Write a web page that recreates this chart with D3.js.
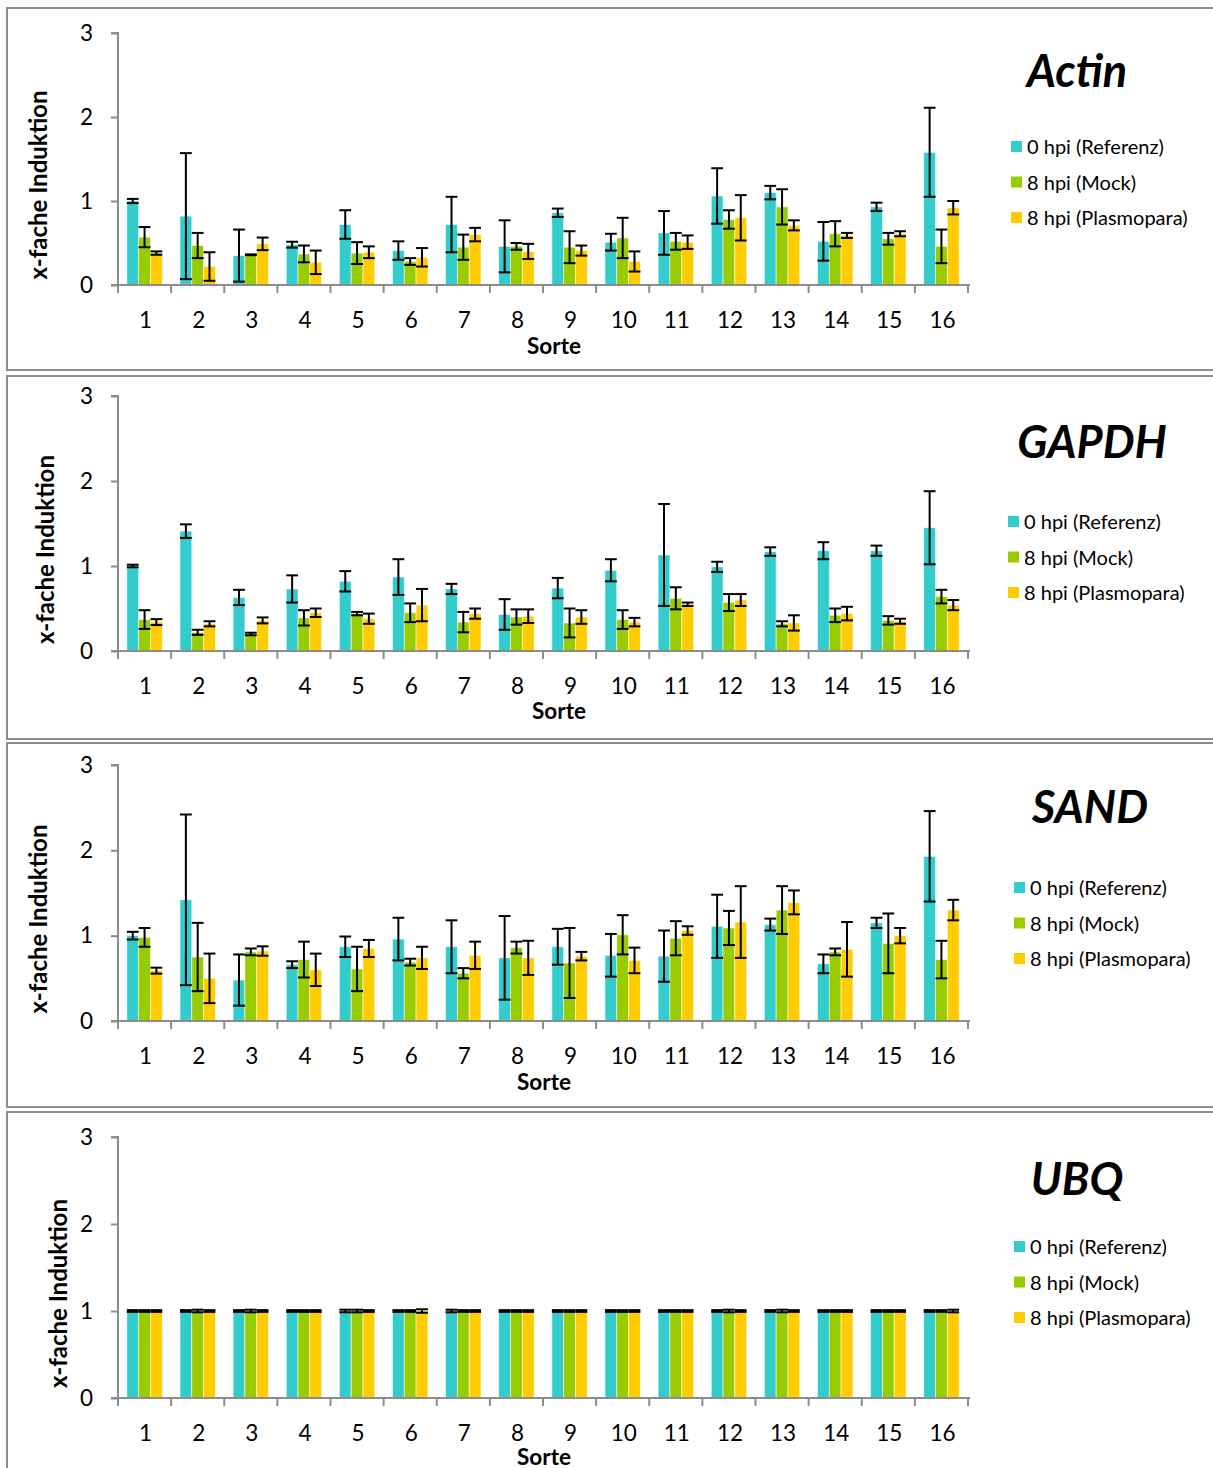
<!DOCTYPE html>
<html>
<head>
<meta charset="utf-8">
<script src="https://cdn.jsdelivr.net/npm/d3@7"></script>
<style>
  html, body { margin: 0; padding: 0; background: #fff; }
  svg { display: block; }
  text { font-family: Lato, "Open Sans", sans-serif; fill: #000; }
</style>
</head>
<body>
<svg id="chart" width="1213" height="1468"></svg>
<script>
// Sorten (cultivars) on the x axis
const sorten = ["1","2","3","4","5","6","7","8","9","10","11","12","13","14","15","16"];
const seriesNames = ["0 hpi (Referenz)", "8 hpi (Mock)", "8 hpi (Plasmopara)"];
const seriesColors = ["#33CCCC", "#99CC00", "#FFCC00"];
const yTicks = [0, 1, 2, 3];

// Actin: mean fold induction and error per cultivar
const actinRef   = [1.00, 0.82, 0.35, 0.48, 0.72, 0.41, 0.72, 0.46, 0.86, 0.51, 0.62, 1.06, 1.10, 0.52, 0.93, 1.58];
const actinMock  = [0.57, 0.47, 0.36, 0.37, 0.38, 0.28, 0.45, 0.46, 0.45, 0.56, 0.52, 0.78, 0.93, 0.61, 0.55, 0.46];
const actinPlas  = [0.38, 0.22, 0.49, 0.27, 0.39, 0.33, 0.60, 0.40, 0.41, 0.28, 0.51, 0.80, 0.71, 0.59, 0.61, 0.92];
const actinRefE  = [0.025, 0.75, 0.31, 0.035, 0.17, 0.11, 0.33, 0.31, 0.05, 0.10, 0.26, 0.33, 0.08, 0.23, 0.05, 0.53];
const actinMockE = [0.12, 0.15, 0.005, 0.10, 0.13, 0.04, 0.15, 0.04, 0.19, 0.24, 0.10, 0.11, 0.21, 0.15, 0.07, 0.20];
const actinPlasE = [0.02, 0.17, 0.075, 0.14, 0.07, 0.11, 0.08, 0.09, 0.06, 0.12, 0.08, 0.27, 0.06, 0.03, 0.03, 0.08];

// GAPDH
const gapdhRef   = [1.00, 1.41, 0.63, 0.73, 0.82, 0.87, 0.73, 0.43, 0.74, 0.95, 1.13, 0.99, 1.17, 1.18, 1.18, 1.45];
const gapdhMock  = [0.37, 0.22, 0.20, 0.39, 0.44, 0.45, 0.34, 0.40, 0.33, 0.37, 0.62, 0.57, 0.32, 0.42, 0.36, 0.64];
const gapdhPlas  = [0.34, 0.32, 0.36, 0.45, 0.38, 0.54, 0.44, 0.41, 0.40, 0.34, 0.55, 0.60, 0.33, 0.44, 0.35, 0.54];
const gapdhRefE  = [0.015, 0.08, 0.09, 0.16, 0.12, 0.21, 0.06, 0.18, 0.12, 0.13, 0.60, 0.06, 0.05, 0.10, 0.06, 0.43];
const gapdhMockE = [0.11, 0.03, 0.015, 0.09, 0.02, 0.11, 0.12, 0.09, 0.17, 0.11, 0.13, 0.10, 0.03, 0.08, 0.05, 0.08];
const gapdhPlasE = [0.035, 0.03, 0.035, 0.05, 0.06, 0.19, 0.06, 0.08, 0.08, 0.05, 0.02, 0.07, 0.09, 0.08, 0.03, 0.06];

// SAND
const sandRef    = [1.00, 1.42, 0.48, 0.66, 0.87, 0.96, 0.87, 0.74, 0.87, 0.77, 0.76, 1.11, 1.13, 0.67, 1.15, 1.93];
const sandMock   = [0.98, 0.75, 0.81, 0.72, 0.61, 0.69, 0.56, 0.86, 0.68, 1.01, 0.97, 1.09, 1.30, 0.81, 0.91, 0.72];
const sandPlas   = [0.59, 0.50, 0.82, 0.60, 0.85, 0.74, 0.77, 0.74, 0.76, 0.71, 1.06, 1.16, 1.39, 0.84, 1.00, 1.30];
const sandRefE   = [0.045, 1.00, 0.30, 0.04, 0.12, 0.25, 0.31, 0.49, 0.21, 0.25, 0.30, 0.37, 0.07, 0.11, 0.06, 0.53];
const sandMockE  = [0.11, 0.40, 0.04, 0.21, 0.26, 0.04, 0.06, 0.07, 0.41, 0.23, 0.20, 0.20, 0.28, 0.04, 0.35, 0.22];
const sandPlasE  = [0.035, 0.29, 0.055, 0.19, 0.10, 0.13, 0.16, 0.20, 0.05, 0.15, 0.05, 0.42, 0.14, 0.32, 0.09, 0.12];

// UBQ
const ubqRef     = [1, 1, 1, 1, 1, 1, 1, 1, 1, 1, 1, 1, 1, 1, 1, 1];
const ubqMock    = [1, 1, 1, 1, 1, 1, 1, 1, 1, 1, 1, 1, 1, 1, 1, 1];
const ubqPlas    = [1, 1, 1, 1, 1, 1, 1, 1, 1, 1, 1, 1, 1, 1, 1, 1];
const ubqRefE    = [0.01, 0.01, 0.01, 0.01, 0.015, 0.01, 0.015, 0.01, 0.01, 0.01, 0.01, 0.01, 0.01, 0.01, 0.01, 0.01];
const ubqMockE   = [0.01, 0.015, 0.015, 0.01, 0.015, 0.01, 0.01, 0.01, 0.01, 0.01, 0.01, 0.015, 0.015, 0.01, 0.01, 0.01];
const ubqPlasE   = [0.01, 0.01, 0.01, 0.01, 0.01, 0.02, 0.01, 0.01, 0.01, 0.01, 0.01, 0.01, 0.01, 0.01, 0.01, 0.015];

const genes = [
  { name: "Actin", values: [actinRef, actinMock, actinPlas], errors: [actinRefE, actinMockE, actinPlasE] },
  { name: "GAPDH", values: [gapdhRef, gapdhMock, gapdhPlas], errors: [gapdhRefE, gapdhMockE, gapdhPlasE] },
  { name: "SAND",  values: [sandRef, sandMock, sandPlas],    errors: [sandRefE, sandMockE, sandPlasE] },
  { name: "UBQ",   values: [ubqRef, ubqMock, ubqPlas],       errors: [ubqRefE, ubqMockE, ubqPlasE] }
];

// Per-panel placement
const layout = [
  { frameTop: 8,    frameBottom: 370,  yTop: 33,   yBottom: 285,  sorteX: 554, sorteDy: 69, ylabX: 38, titleX: 1077, titleY: 87,   legX: 1011, legY: 147 },
  { frameTop: 376,  frameBottom: 739,  yTop: 396,  yBottom: 651,  sorteX: 559, sorteDy: 68, ylabX: 45, titleX: 1092, titleY: 458,  legX: 1008, legY: 522 },
  { frameTop: 743,  frameBottom: 1107, yTop: 765,  yBottom: 1021, sorteX: 544, sorteDy: 69, ylabX: 38, titleX: 1090, titleY: 823,  legX: 1014, legY: 888 },
  { frameTop: 1112, frameBottom: 1480, yTop: 1137, yBottom: 1398, sorteX: 544, sorteDy: 67, ylabX: 58, titleX: 1077, titleY: 1195, legX: 1014, legY: 1247 }
];

const svg = d3.select("#chart");
const axisColor = "#8c8c8c";
const xLeft = 118, xRight = 968;

const x0 = d3.scaleBand().domain(sorten).range([xLeft, xRight]).paddingInner(0).paddingOuter(0);
const bw = x0.bandwidth();
const x1 = d3.scaleBand().domain(d3.range(3)).range([bw / 6, bw * 5 / 6]).padding(0);

genes.forEach((gene, gi) => {
  const L = layout[gi];
  const g = svg.append("g");

  // panel frame
  g.append("rect")
    .attr("x", 7).attr("y", L.frameTop)
    .attr("width", 1240).attr("height", L.frameBottom - L.frameTop)
    .attr("fill", "none").attr("stroke", axisColor).attr("stroke-width", 2);

  const y = d3.scaleLinear().domain([0, 3]).range([L.yBottom, L.yTop]);

  // bars
  gene.values.forEach((vals, si) => {
    g.append("g").selectAll("rect")
      .data(vals)
      .join("rect")
      .attr("x", (d, i) => x0(sorten[i]) + x1(si))
      .attr("y", d => y(d))
      .attr("width", x1.bandwidth())
      .attr("height", d => y(0) - y(d))
      .attr("fill", seriesColors[si])
      .attr("stroke", "#ffffff").attr("stroke-opacity", 0.7).attr("stroke-width", 0.8);
  });

  // error bars
  gene.values.forEach((vals, si) => {
    const errs = gene.errors[si];
    const eg = g.append("g").attr("stroke", "#000").attr("stroke-width", 2);
    vals.forEach((v, i) => {
      const cx = x0(sorten[i]) + x1(si) + x1.bandwidth() / 2;
      const hi = y(v + errs[i]), lo = y(v - errs[i]);
      const hw = x1.bandwidth() / 2;
      eg.append("line").attr("x1", cx).attr("x2", cx).attr("y1", hi).attr("y2", lo);
      eg.append("line").attr("x1", cx - hw).attr("x2", cx + hw).attr("y1", hi).attr("y2", hi);
      eg.append("line").attr("x1", cx - hw).attr("x2", cx + hw).attr("y1", lo).attr("y2", lo);
    });
  });

  // y axis
  const yAxis = g.append("g")
    .attr("transform", `translate(${xLeft},0)`)
    .call(d3.axisLeft(y).tickValues(yTicks).tickSize(7).tickPadding(18).tickFormat(d3.format("d")));
  yAxis.select(".domain").attr("stroke", axisColor).attr("stroke-width", 2).attr("d", `M-7,${y(3)}H0V${y(0)}`);
  yAxis.selectAll(".tick line").attr("stroke", axisColor).attr("stroke-width", 2);
  yAxis.selectAll(".tick text").attr("font-size", 22.5).attr("font-family", "Lato, sans-serif").attr("fill", "#000");

  // x axis with boundary ticks between categories
  const xAxisG = g.append("g").attr("transform", `translate(0,${L.yBottom})`);
  xAxisG.append("line")
    .attr("x1", xLeft - 7).attr("x2", xRight + 2).attr("y1", 0).attr("y2", 0)
    .attr("stroke", axisColor).attr("stroke-width", 2);
  xAxisG.selectAll("line.b")
    .data(d3.range(sorten.length + 1))
    .join("line")
    .attr("class", "b")
    .attr("x1", i => xLeft + i * bw).attr("x2", i => xLeft + i * bw)
    .attr("y1", 0).attr("y2", 8)
    .attr("stroke", axisColor).attr("stroke-width", 2);
  xAxisG.selectAll("text")
    .data(sorten)
    .join("text")
    .attr("x", d => x0(d) + bw / 2 + 1)
    .attr("y", 43)
    .attr("text-anchor", "middle")
    .attr("font-size", 22.5)
    .text(d => d);

  // x axis title
  g.append("text")
    .attr("x", L.sorteX).attr("y", L.yBottom + L.sorteDy)
    .attr("text-anchor", "middle")
    .attr("font-size", 22.5).attr("font-weight", "bold")
    .text("Sorte");

  // y axis title
  g.append("text")
    .attr("transform", `translate(${L.ylabX + 9},${(y(3) + y(0)) / 2 + 26}) rotate(-90)`)
    .attr("text-anchor", "middle")
    .attr("font-size", 24).attr("font-weight", "bold")
    .text("x-fache Induktion");

  // gene title
  g.append("text")
    .attr("x", L.titleX).attr("y", L.titleY)
    .attr("text-anchor", "middle")
    .attr("font-size", 45).attr("font-weight", "bold").attr("font-style", "italic")
    .text(gene.name);

  // legend
  const leg = g.append("g").attr("transform", `translate(${L.legX},${L.legY})`);
  seriesNames.forEach((name, si) => {
    const row = leg.append("g").attr("transform", `translate(0,${si * 35.5})`);
    row.append("rect").attr("x", 0).attr("y", -6).attr("width", 11).attr("height", 11).attr("fill", seriesColors[si]);
    row.append("text").attr("x", 16).attr("y", 7).attr("font-size", 20).text(name);
  });
});
</script>
</body>
</html>
